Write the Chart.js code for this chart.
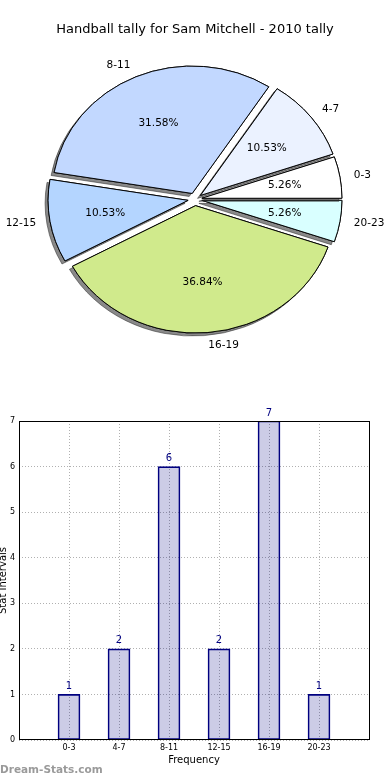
<!DOCTYPE html>
<html>
<head>
<meta charset="utf-8">
<script src="https://cdn.jsdelivr.net/npm/chart.js@4.4.0/dist/chart.umd.min.js"></script>
<style>
  html, body { margin: 0; padding: 0; background: #fff; }
  body { width: 390px; height: 780px; position: relative; overflow: hidden; font-family: "DejaVu Sans", sans-serif; }
  #pie-box { position: absolute; left: 0; top: 0; width: 390px; height: 390px; }
  #bar-box { position: absolute; left: 0; top: 390px; width: 390px; height: 390px; }
  #mark { position: absolute; left: 0; top: 763px; font-size: 10.5px; font-weight: bold; color: #9a9a9a; }
</style>
</head>
<body>
<div id="pie-box"><canvas id="pie-chart"></canvas></div>
<div id="bar-box"><canvas id="bar-chart"></canvas></div>
<div id="mark">Dream-Stats.com</div>
<script>
const categories = ["0-3", "4-7", "8-11", "12-15", "16-19", "20-23"];
const counts = [1, 2, 6, 2, 7, 1];
const pieColors = ["#ffffff", "#ebf2ff", "#c2d8ff", "#b4d5ff", "#d0ea8c", "#d9ffff"];
const yMax = 7;

const FONT = "DejaVu Sans";
const total = counts.reduce((a, b) => a + b, 0);

// pie: matplotlib goes counter-clockwise from 3 o'clock, chart.js clockwise -> reverse
const pieLabels = categories.slice().reverse();
const pieValues = counts.slice().reverse();
const pieFill = pieColors.slice().reverse();

const explode = 7;     // px pushed out along the middle of each slice
const squash = 0.91;   // the original pie is a bit flattened

const pieDecor = {
    id: "pieDecor",
    beforeDatasetsDraw(chart) {
        const meta = chart.getDatasetMeta(0);
        meta.data.forEach(arc => {
            if (arc._wrapped) return;
            const draw = arc.draw;
            arc.draw = function(c, area) {
                const mid = (this.startAngle + this.endAngle) / 2;
                c.save();
                c.translate(this.x, this.y);
                c.scale(1, squash);
                c.translate(-this.x + Math.cos(mid) * explode, -this.y + Math.sin(mid) * explode);
                // shadow pass, then the slice itself on top
                c.save();
                c.shadowColor = "rgba(40,40,40,0.55)";
                c.shadowOffsetX = -3;
                c.shadowOffsetY = 3;
                c.shadowBlur = 0;
                draw.call(this, c, area);
                c.restore();
                draw.call(this, c, area);
                c.restore();
            };
            arc._wrapped = true;
        });
    },
    afterDatasetsDraw(chart) {
        const ctx = chart.ctx;
        const meta = chart.getDatasetMeta(0);
        ctx.save();
        ctx.font = "10.5px '" + FONT + "'";
        ctx.fillStyle = "#000";
        ctx.textBaseline = "middle";
        meta.data.forEach((arc, i) => {
            const mid = (arc.startAngle + arc.endAngle) / 2;
            const cs = Math.cos(mid), sn = Math.sin(mid);
            const r = arc.outerRadius;
            // category label
            let d = explode + 1.1 * r;
            ctx.textAlign = cs > 0 ? "left" : "right";
            ctx.fillText(pieLabels[i], arc.x + cs * d, arc.y + sn * d * squash);
            // percentage
            d = explode + 0.6 * r;
            ctx.textAlign = "center";
            ctx.fillText((pieValues[i] / total * 100).toFixed(2) + "%", arc.x + cs * d, arc.y + sn * d * squash);
        });
        ctx.restore();
    }
};

new Chart(document.getElementById("pie-chart").getContext("2d"), {
    type: "pie",
    data: {
        labels: pieLabels,
        datasets: [{
            data: pieValues,
            backgroundColor: pieFill,
            borderColor: "#000",
            borderWidth: 1
        }]
    },
    options: {
        responsive: true,
        maintainAspectRatio: false,
        animation: false,
        radius: 140,
        rotation: 90,
        layout: { padding: { top: 0, bottom: 39, left: 0, right: 0 } },
        plugins: {
            legend: { display: false },
            tooltip: { enabled: false },
            title: {
                display: true,
                text: "Handball tally for Sam Mitchell - 2010 tally",
                color: "#000",
                font: { family: FONT, size: 13, weight: "normal" },
                padding: { top: 22, bottom: 10 }
            }
        }
    },
    plugins: [pieDecor]
});

// bar chart: empty slot at both ends like the original axis range
const barLabels = [""].concat(categories, [""]);
const barData = [null].concat(counts, [null]);

const barDecor = {
    id: "barDecor",
    afterDatasetsDraw(chart) {
        const ctx = chart.ctx;
        const meta = chart.getDatasetMeta(0);
        ctx.save();
        ctx.font = "10px '" + FONT + "'";
        ctx.fillStyle = "#000080";
        ctx.textAlign = "center";
        ctx.textBaseline = "bottom";
        meta.data.forEach((bar, i) => {
            if (barData[i] == null) return;
            ctx.fillText(String(barData[i]), bar.x, bar.y - 3);
        });
        ctx.restore();
    },
    afterDraw(chart) {
        const a = chart.chartArea;
        const ctx = chart.ctx;
        ctx.save();
        ctx.strokeStyle = "#000";
        ctx.lineWidth = 1;
        ctx.strokeRect(Math.round(a.left) + 0.5, Math.round(a.top) + 0.5,
            Math.round(a.right - a.left), Math.round(a.bottom - a.top) - 1);
        ctx.restore();
    }
};

new Chart(document.getElementById("bar-chart").getContext("2d"), {
    type: "bar",
    data: {
        labels: barLabels,
        datasets: [{
            data: barData,
            backgroundColor: "rgba(0,0,128,0.2)",
            borderColor: "#000080",
            borderWidth: 1,
            borderSkipped: false,
            barThickness: 22
        }]
    },
    options: {
        responsive: true,
        maintainAspectRatio: false,
        animation: false,
        layout: { padding: { top: 31, right: 21, bottom: 0, left: 0 } },
        plugins: {
            legend: { display: false },
            tooltip: { enabled: false }
        },
        scales: {
            x: {
                offset: false,
                grid: { offset: false, color: "#b0b0b0", drawTicks: false },
                border: { display: false, dash: [1, 2] },
                ticks: { color: "#000", font: { family: FONT, size: 8 }, padding: 3, maxRotation: 0, autoSkip: false },
                title: { display: true, text: "Frequency", color: "#000", font: { family: FONT, size: 10 }, padding: { top: 0, bottom: 14 } },
                afterFit(s) { s.height = 40; }
            },
            y: {
                min: 0,
                max: yMax,
                grid: { color: "#b0b0b0", drawTicks: false },
                border: { display: false, dash: [1, 2] },
                ticks: { stepSize: 1, color: "#000", font: { family: FONT, size: 8 }, padding: 4 },
                title: { display: true, text: "Stat Intervals", color: "#000", font: { family: FONT, size: 10 }, padding: { top: -3, bottom: 0 } },
                afterFit(s) { s.width = 19; }
            }
        }
    },
    plugins: [barDecor]
});
</script>
</body>
</html>
